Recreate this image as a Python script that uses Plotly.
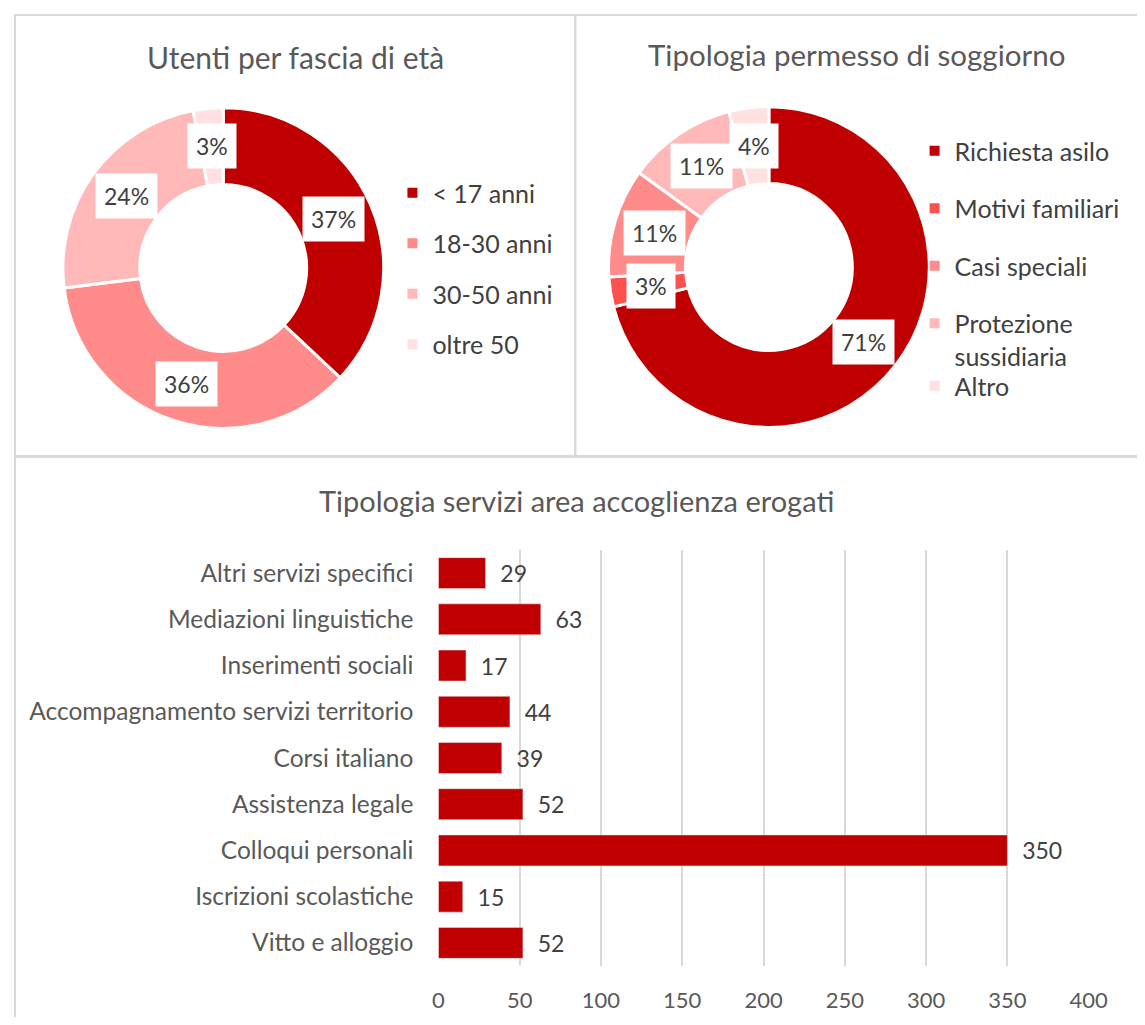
import math
import plotly.graph_objects as go

# page has an 8px body margin, so the figure is drawn at (8, 8);
# keep it inside the 1145x1025 window so no scrollbars appear
OFF = 8
W, H = 1145 - 2 * OFF, 1025 - 2 * OFF
FONT = "Lato"
GREY_TITLE = "#595959"
GREY_TEXT = "#404040"

# --- data ---
eta_labels = ["< 17 anni", "18-30 anni", "30-50 anni", "oltre 50"]
eta_values = [37, 36, 24, 3]
eta_colors = ["#C00000", "#FF8B8B", "#FFB9B9", "#FFE1E1"]

perm_labels = ["Richiesta asilo", "Motivi familiari", "Casi speciali",
               "Protezione<br>sussidiaria", "Altro"]
perm_values = [71, 3, 11, 11, 4]
perm_colors = ["#C00000", "#FF5050", "#FF8B8B", "#FFB9B9", "#FFE1E1"]

serv_labels = ["Altri servizi specifici", "Mediazioni linguistiche",
               "Inserimenti sociali", "Accompagnamento servizi territorio",
               "Corsi italiano", "Assistenza legale", "Colloqui personali",
               "Iscrizioni scolastiche", "Vitto e alloggio"]
serv_values = [29, 63, 17, 44, 39, 52, 350, 15, 52]


def px(x):
    return (x - OFF) / W


def py(y):
    return 1 - (y - OFF) / H


fig = go.Figure()

HOLE = 0.52
# (labels, values, colors, centre, radius, legend for each entry)
pies = [
    (eta_labels, eta_values, eta_colors, (222, 268), 161,
     ["legend"] * 4),
    (perm_labels, perm_values, perm_colors, (780, 267), 161,
     ["legend2"] * 4 + ["legend3"]),
]
annotations = []
for labels, values, colors, (cx, cy), r, legs in pies:
    rd = r + 3  # plotly keeps a few px free inside the domain
    fig.add_trace(go.Pie(
        labels=labels, values=values, hole=HOLE, sort=False,
        direction="clockwise", rotation=0,
        marker=dict(colors=colors, line=dict(color="white", width=3)),
        textinfo="none", hoverinfo="label+percent", showlegend=False,
        domain=dict(x=[px(cx - rd), px(cx + rd)], y=[py(cy + rd), py(cy - rd)]),
    ))
    # data labels in white boxes at the middle of the ring
    tot = sum(values)
    cum = 0
    rm = r * (1 + HOLE) / 2
    for v in values:
        mid = (cum + v / 2) / tot * 2 * math.pi
        cum += v
        annotations.append(dict(
            x=px(cx + rm * math.sin(mid)), y=py(cy - rm * math.cos(mid)),
            xref="paper", yref="paper", xanchor="center", yanchor="middle",
            showarrow=False, text=f"{round(v / tot * 100)}%",
            bgcolor="white", borderpad=8,
            font=dict(family=FONT, size=23, color=GREY_TEXT)))
    # legend entries
    for lab, col, leg in zip(labels, colors, legs):
        fig.add_trace(go.Scatter(
            x=[None], y=[None], mode="markers", name=lab, legend=leg,
            legendgroup=lab.replace("<br>", " "),
            marker=dict(symbol="square", size=10, color=col),
            xaxis="x", yaxis="y", hoverinfo="skip"))

fig.add_trace(go.Bar(
    x=serv_values, y=serv_labels, orientation="h",
    marker=dict(color="#C00000"), showlegend=False,
    texttemplate="\u00a0\u00a0%{x}", textposition="outside", cliponaxis=False,
    textfont=dict(family=FONT, size=23, color=GREY_TEXT),
))

titles = [
    ("Utenti per fascia di età", 296, 57, 30),
    ("Tipologia permesso di soggiorno", 870, 55, 29.5),
    ("Tipologia servizi area accoglienza erogati", 583, 500, 29),
]
for t, x, y, s in titles:
    annotations.append(dict(x=px(x), y=py(y), xref="paper", yref="paper",
                            xanchor="center", yanchor="middle",
                            showarrow=False, text=t,
                            font=dict(family=FONT, size=s, color=GREY_TITLE)))

border = dict(color="#D9D9D9", width=2)
shapes = [
    dict(type="rect", xref="paper", yref="paper", x0=px(9), x1=px(582),
         y0=py(456), y1=py(15), line=border),
    dict(type="rect", xref="paper", yref="paper", x0=px(582), x1=px(1160),
         y0=py(456), y1=py(15), line=border),
    dict(type="rect", xref="paper", yref="paper", x0=px(9), x1=px(1160),
         y0=py(1040), y1=py(457), line=border),
]

leg_font = dict(family=FONT, size=25, color=GREY_TEXT)
clear = "rgba(0,0,0,0)"
fig.update_layout(
    width=W, height=H, margin=dict(l=0, r=0, t=0, b=0),
    paper_bgcolor="white", plot_bgcolor="white",
    font=dict(family=FONT, color=GREY_TITLE),
    annotations=annotations, shapes=shapes,
    bargap=0.33,
    legend=dict(x=px(395), y=py(170), xanchor="left", yanchor="top",
                font=leg_font, tracegroupgap=15, bgcolor=clear),
    legend2=dict(x=px(929), y=py(128), xanchor="left", yanchor="top",
                 font=leg_font, tracegroupgap=22, valign="top", bgcolor=clear),
    legend3=dict(x=px(929), y=py(363), xanchor="left", yanchor="top",
                 font=leg_font, bgcolor=clear),
    xaxis=dict(domain=[px(442), px(1107)], range=[0, 400], dtick=50,
               showgrid=True, gridcolor="#D9D9D9", gridwidth=2,
               zeroline=False, showline=False, ticks="",
               ticklabelstandoff=19,
               tickfont=dict(family=FONT, size=22, color=GREY_TITLE),
               anchor="y"),
    yaxis=dict(domain=[py(966), py(550)], autorange="reversed",
               type="category", categoryorder="array", categoryarray=serv_labels,
               showgrid=False, zeroline=False, showline=False, ticks="",
               ticklabelstandoff=24,
               tickfont=dict(family=FONT, size=24.5, color=GREY_TITLE),
               anchor="x"),
)

fig.write_html("out.html")
